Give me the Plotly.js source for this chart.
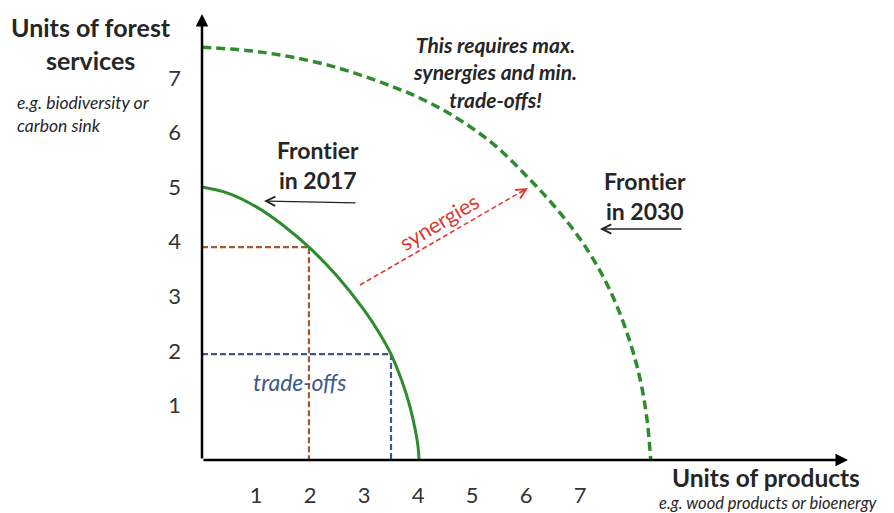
<!DOCTYPE html>
<html>
<head>
<meta charset="utf-8">
<script src="https://cdn.plot.ly/plotly-3.0.1.min.js"></script>
<style>html,body{margin:0;padding:0;background:#fff;}#chart{width:894px;height:513px;}</style>
</head>
<body>
<div id="chart"></div>
<script>
// Tick labels
const xTicks = [1, 2, 3, 4, 5, 6, 7];
const yTicks = [1, 2, 3, 4, 5, 6, 7];

// Production possibility frontier in 2017 (solid)
const frontier2017X = [0, 0.5, 1.0, 1.5, 2.0, 2.5, 3.0, 3.3, 3.5, 3.7, 3.85, 3.95, 4.0, 4.02];
const frontier2017Y = [5.0, 4.88, 4.64, 4.3, 3.88, 3.37, 2.75, 2.3, 1.94, 1.45, 0.98, 0.55, 0.25, 0.0];

// Frontier in 2030 (dashed)
const frontier2030X = [0, 1.1, 2.3, 3.5, 4.2, 4.85, 5.45, 6.05, 6.55, 7.0, 7.35, 7.65, 7.93, 8.12, 8.24, 8.31];
const frontier2030Y = [7.56, 7.47, 7.24, 6.85, 6.55, 6.18, 5.74, 5.16, 4.62, 4.05, 3.50, 2.90, 2.15, 1.45, 0.75, 0.0];

// Trade-off points on the 2017 frontier
const tradeX = [1.98, 3.5];
const tradeY = [3.90, 1.94];
const tradeColors = ['#a65a2c', '#3d5a8a'];

const FONT = 'Lato, "Open Sans", "DejaVu Sans", sans-serif';
const TXT = '#262626';
const ZW = '\u200C';

// pixel -> paper helper (plot area: x 202..848, y 14..460)
const L = 202, R = 848, T = 14, B = 460;
const px = v => (v - L) / (R - L);
const py = v => (B - v) / (B - T);

const traces = [];
tradeX.forEach((x, i) => {
  traces.push({
    x: [0, x, x], y: [tradeY[i], tradeY[i], 0],
    mode: 'lines', line: {color: tradeColors[i], width: 2.2, dash: '6px,3px'},
    hoverinfo: 'skip', showlegend: false
  });
});
traces.push({
  x: frontier2017X, y: frontier2017Y, mode: 'lines',
  line: {color: '#2e8b2e', width: 3, shape: 'spline', smoothing: 1},
  hoverinfo: 'skip', showlegend: false
});
traces.push({
  x: frontier2030X, y: frontier2030Y, mode: 'lines',
  line: {color: '#2e8b2e', width: 3.5, shape: 'spline', smoothing: 1, dash: '9px,5px'},
  hoverinfo: 'skip', showlegend: false
});

const ann = [];
function txt(text, x, y, size, opts) {
  ann.push(Object.assign({
    text: text, xref: 'paper', yref: 'paper', x: px(x), y: py(y),
    xanchor: 'center', yanchor: 'middle', showarrow: false, borderpad: 0,
    font: {family: FONT, size: size, color: TXT}
  }, opts || {}));
}
function arrow(x1, y1, x2, y2, color, width, head, size) {
  ann.push({
    text: '', xref: 'paper', yref: 'paper', x: px(x2), y: py(y2),
    axref: 'pixel', ayref: 'pixel', ax: x1 - x2, ay: y1 - y2,
    showarrow: true, arrowcolor: color, arrowwidth: width,
    arrowhead: head, arrowsize: size, standoff: 0, startstandoff: 0
  });
}

// axes with arrows
arrow(202, 460, 848, 460, '#000', 2.5, 2, 1);
arrow(202, 460, 202, 14, '#000', 2.5, 2, 1);

// frontier pointer arrows
arrow(357, 203, 264, 201, '#222', 1.3, 5, 1.4);
arrow(683, 229, 600, 229, '#222', 1.3, 5, 1.4);

// synergies arrow head
arrow(518, 194, 528, 188, '#e03a30', 1.3, 5, 1.5);

// axis titles
txt('<b>Units of forest<br>services</b>', 91, 44, 25, {});
txt('<i>e.g. biodiversity or<br>carbon sink</i>', 16, 114, 17.5, {xanchor: 'left', align: 'left'});
txt('<b>Units of products</b>', 766, 477, 24.5, {});
txt('<i>e.g. wood products or bioenergy</i>', 768, 503, 16.5, {});

// labels
txt('<b><i>This requires max.<br>synergies and min.<br>trade-offs!</i></b>', 495, 72, 21, {});
txt('<b>Front' + ZW + 'ier<br>in 2017</b>', 318, 165, 23, {});
txt('<b>Front' + ZW + 'ier<br>in 2030</b>', 645, 196, 23, {});
txt('synergies', 439, 222, 21.5, {textangle: -31, font: {family: FONT, size: 21.5, color: '#e03a30'}});
txt('<i>trade-offs</i>', 299, 382, 23, {font: {family: FONT, size: 23, color: '#3d5a8a'}});

const layout = {
  width: 894, height: 513,
  margin: {l: L, r: 894 - R, t: T, b: 513 - B, pad: 0},
  paper_bgcolor: '#fff', plot_bgcolor: '#fff',
  showlegend: false,
  xaxis: {
    range: [0, (R - L) / 54], tickvals: xTicks, ticktext: xTicks.map(String),
    showgrid: false, zeroline: false, showline: false, ticks: '',
    ticklabelstandoff: 20, tickfont: {family: FONT, size: 22, color: '#333'},
    fixedrange: true
  },
  yaxis: {
    range: [0, (B - T) / 54.6], tickvals: yTicks, ticktext: yTicks.map(String),
    showgrid: false, zeroline: false, showline: false, ticks: '',
    ticklabelstandoff: 20, tickfont: {family: FONT, size: 22, color: '#333'},
    fixedrange: true
  },
  shapes: [{
    type: 'line', xref: 'paper', yref: 'paper',
    x0: px(360), y0: py(285), x1: px(526), y1: py(189),
    line: {color: '#e03a30', width: 1.6, dash: '5px,3px'}
  }],
  annotations: ann
};

Plotly.newPlot('chart', traces, layout, {staticPlot: true, displayModeBar: false});
</script>
</body>
</html>
